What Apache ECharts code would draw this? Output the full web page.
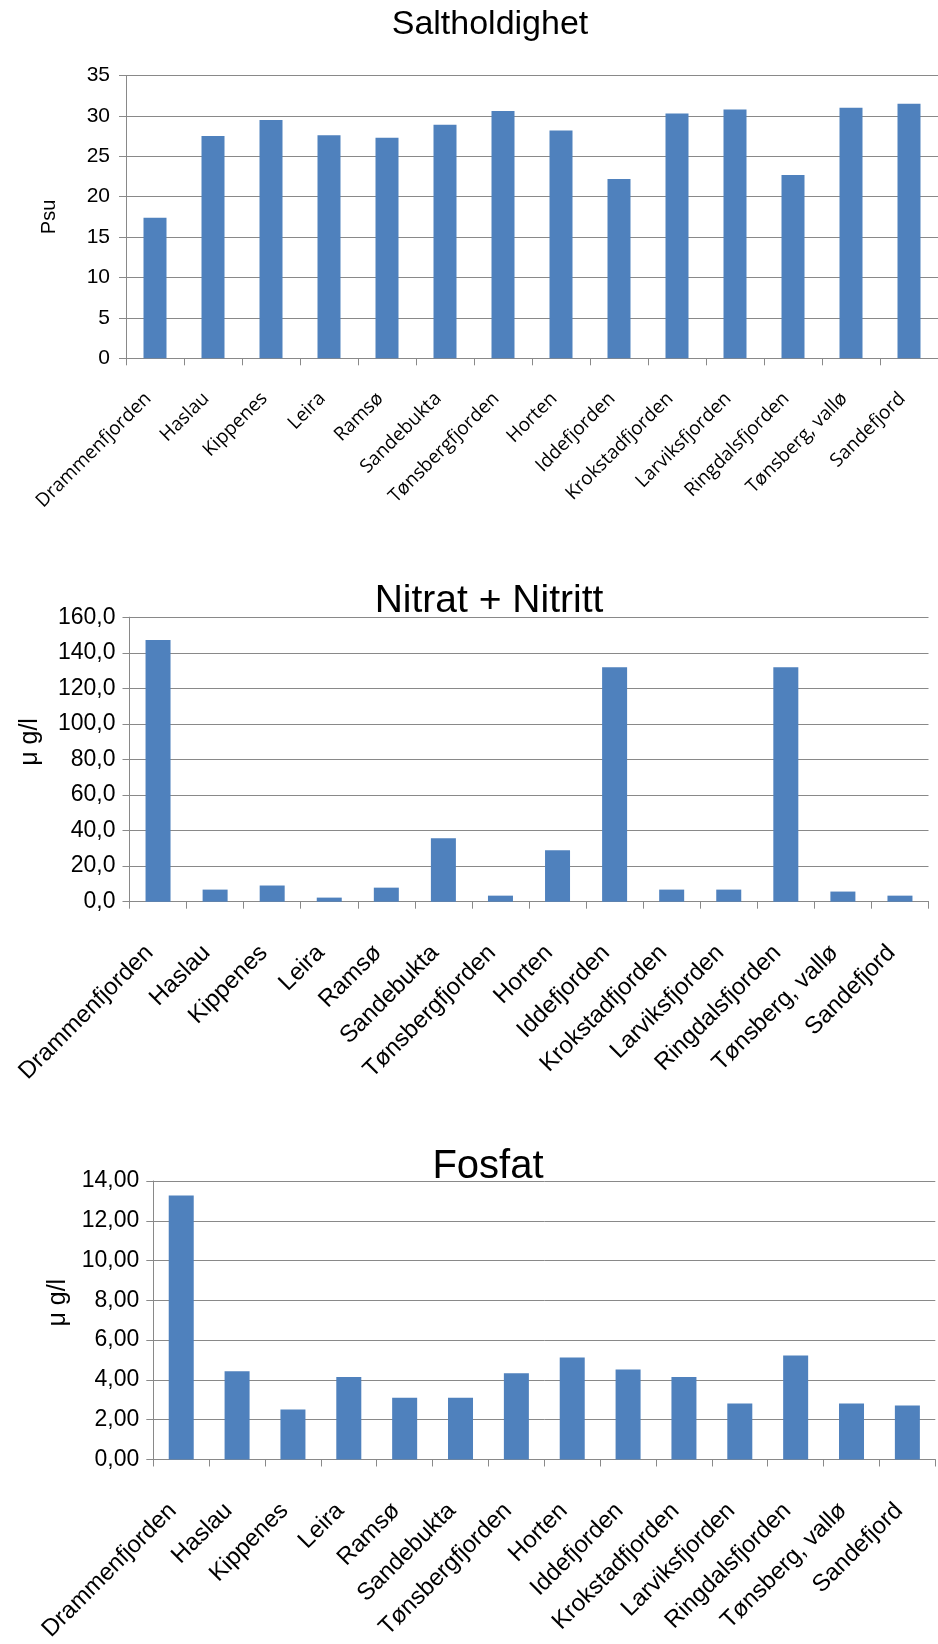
<!DOCTYPE html>
<html>
<head>
<meta charset="utf-8">
<script src="https://cdn.jsdelivr.net/npm/echarts@6/dist/echarts.min.js"></script>
<style>
  html, body { margin: 0; padding: 0; background: #fff; }
  #chart { width: 938px; height: 1644px; }
</style>
</head>
<body>
<div id="chart"></div>
<script>
// stasjoner
var stations = ['Drammenfjorden', 'Haslau', 'Kippenes', 'Leira', 'Ramsø', 'Sandebukta', 'Tønsbergfjorden',
  'Horten', 'Iddefjorden', 'Krokstadfjorden', 'Larviksfjorden', 'Ringdalsfjorden', 'Tønsberg, vallø', 'Sandefjord']

var salt = [17.4, 27.5, 29.5, 27.6, 27.3, 28.9, 30.6, 28.2, 22.2, 30.3, 30.8, 22.7, 31.0, 31.5]
var nitrat = [147.2, 6.8, 9.1, 2.3, 7.9, 35.7, 3.4, 28.9, 131.9, 6.8, 6.8, 131.9, 5.7, 3.4]
var fosfat = [13.27, 4.43, 2.51, 4.15, 3.10, 3.10, 4.33, 5.13, 4.53, 4.15, 2.81, 5.23, 2.81, 2.71]

// y-akser: [min, max, steg]
var saltAxis = [0, 35, 5]
var nitratAxis = [0, 160, 20]
var fosfatAxis = [0, 14, 2]

var gray = '#898989'
var blue = '#4F81BD'

function yAxis(idx, range, decimals, name, fontSize, gap, shift) {
  return {
    gridIndex: idx,
    type: 'value',
    min: range[0], max: range[1], interval: range[2],
    name: name,
    nameLocation: 'middle',
    nameGap: gap,
    nameTextStyle: {
      fontFamily: 'Liberation Sans', fontSize: fontSize, color: '#000',
      padding: [0, 0, 0, shift]
    },
    axisLine: {show: true, lineStyle: {color: gray, width: 1}},
    axisTick: {show: true, length: 7, lineStyle: {color: gray}},
    splitLine: {lineStyle: {color: gray, width: 1}},
    axisLabel: {
      fontFamily: 'Liberation Sans', color: '#000',
      fontSize: idx === 0 ? 21 : 23,
      margin: idx === 0 ? 16 : 14,
      formatter: function (v) { return v.toFixed(decimals).replace('.', ',') }
    }
  }
}

function xAxis(idx, font, fontSize, margin) {
  return {
    gridIndex: idx,
    type: 'category',
    data: stations,
    axisLine: {lineStyle: {color: gray, width: 1}},
    axisTick: {show: true, length: 7, lineStyle: {color: gray}},
    axisLabel: {
      interval: 0, rotate: 45, color: '#000',
      fontFamily: font, fontSize: fontSize, margin: margin,
      verticalAlign: 'bottom'
    }
  }
}

function bars(idx, data, width) {
  return {
    type: 'bar', xAxisIndex: idx, yAxisIndex: idx,
    data: data, barWidth: width,
    itemStyle: {color: blue},
    silent: true
  }
}

var options = {
  animation: false,
  backgroundColor: '#fff',
  title: [
    {text: 'Saltholdighet', left: 490, top: 7.6, textAlign: 'center', padding: 0,
      textStyle: {fontFamily: 'Liberation Sans', fontSize: 34, fontWeight: 'normal', color: '#000'}},
    {text: 'Nitrat + Nitritt', left: 489, top: 581.6, textAlign: 'center', padding: 0,
      textStyle: {fontFamily: 'Liberation Sans', fontSize: 39, fontWeight: 'normal', color: '#000'}},
    {text: 'Fosfat', left: 488, top: 1146.5, textAlign: 'center', padding: 0,
      textStyle: {fontFamily: 'Liberation Sans', fontSize: 40, fontWeight: 'normal', color: '#000'}}
  ],
  grid: [
    {left: 126, top: 75.5, width: 820.4, height: 282.8},
    {left: 129.5, top: 617.2, width: 799, height: 284.5},
    {left: 153.3, top: 1181, width: 782, height: 285}
  ],
  xAxis: [
    xAxis(0, 'Open Sans', 19, 44),
    xAxis(1, 'Liberation Sans', 24, 56),
    xAxis(2, 'Liberation Sans', 24, 56)
  ],
  yAxis: [
    yAxis(0, saltAxis, 0, 'Psu', 20, 67, 0),
    yAxis(1, nitratAxis, 1, 'μ g/l', 25, 87, 35),
    yAxis(2, fosfatAxis, 2, 'μ g/l', 25, 83, 35)
  ],
  series: [
    bars(0, salt, 23),
    bars(1, nitrat, 25),
    bars(2, fosfat, 25)
  ]
}

var chart = echarts.init(document.getElementById('chart'))
chart.setOption(options)
</script>
</body>
</html>
